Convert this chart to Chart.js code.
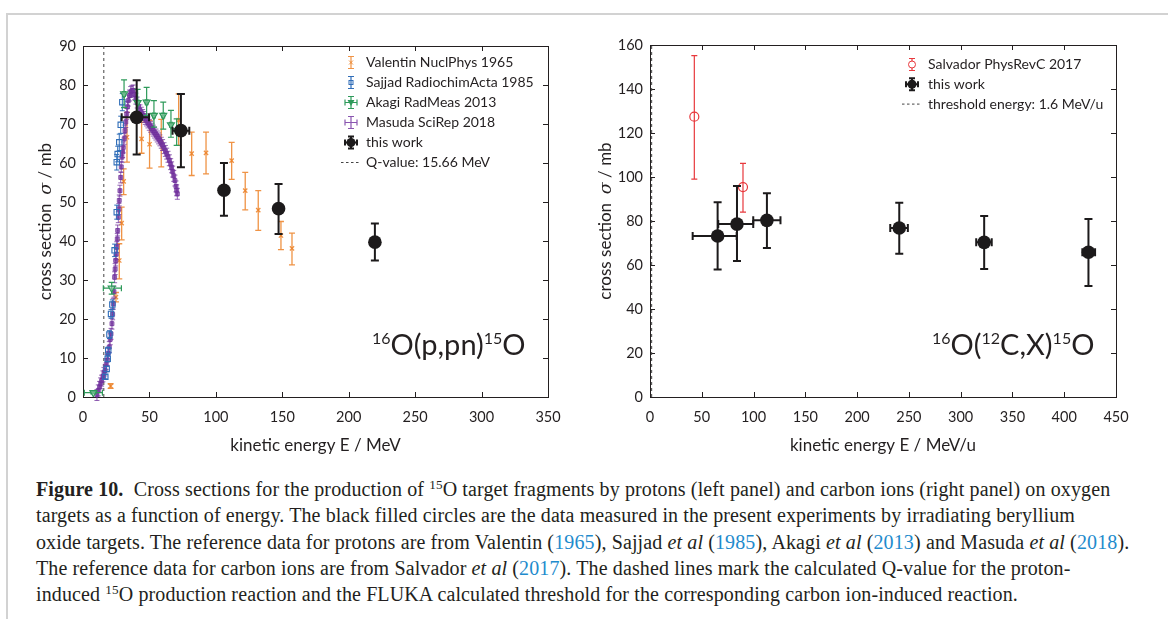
<!DOCTYPE html>
<html><head><meta charset="utf-8">
<script src="https://cdn.jsdelivr.net/npm/chart.js@4.4.0/dist/chart.umd.min.js"></script>
<style>
html,body{margin:0;padding:0;background:#fff;}
body{width:1168px;height:619px;overflow:hidden;position:relative;}
#frame{position:absolute;left:6px;top:13px;width:1170px;height:620px;border-left:2px solid #d2d2d2;border-top:2px solid #d2d2d2;}
#w1{position:absolute;left:0;top:0;width:590px;height:465px;}
#w2{position:absolute;left:584px;top:0;width:584px;height:465px;}
#caption{position:absolute;left:36px;top:476px;font-family:'Liberation Serif',serif;font-size:20px;letter-spacing:0.12px;line-height:26.3px;color:#231f20;white-space:nowrap;}
#caption sup{font-size:0.66em;vertical-align:0.5em;line-height:0;}
#caption .y{color:#1e8bcd;}
</style></head>
<body>
<div id="frame"></div>
<div id="w1"><canvas id="c1"></canvas></div>
<div id="w2"><canvas id="c2"></canvas></div>
<div id="caption">
<div><b>Figure 10.</b>&nbsp; Cross sections for the production of <sup>15</sup>O target fragments by protons (left panel) and carbon ions (right panel) on oxygen</div>
<div>targets as a function of energy. The black filled circles are the data measured in the present experiments by irradiating beryllium</div>
<div>oxide targets. The reference data for protons are from Valentin (<span class="y">1965</span>), Sajjad <i>et al</i> (<span class="y">1985</span>), Akagi <i>et al</i> (<span class="y">2013</span>) and Masuda <i>et al</i> (<span class="y">2018</span>).</div>
<div>The reference data for carbon ions are from Salvador <i>et al</i> (<span class="y">2017</span>). The dashed lines mark the calculated Q-value for the proton-</div>
<div>induced <sup>15</sup>O production reaction and the FLUKA calculated threshold for the corresponding carbon ion-induced reaction.</div>
</div>
<script>
// ---------- tick values ----------
const leftXTicks = [0, 50, 100, 150, 200, 250, 300, 350];
const leftYTicks = [0, 10, 20, 30, 40, 50, 60, 70, 80, 90];
const rightXTicks = [0, 50, 100, 150, 200, 250, 300, 350, 400, 450];
const rightYTicks = [0, 20, 40, 60, 80, 100, 120, 140, 160];

// ---------- left panel: protons ----------
const qValue = 15.66;
const thresholdEnergy = 1.6;

const valentinE     = [20.8, 24.8, 27.3, 29.1, 30.6, 33.1, 44.1, 50.1, 58.9, 72.0, 81.8, 92.6, 111.9, 122.1, 131.9, 149.0, 157.3];
const valentinSigma = [2.8, 25.6, 35.0, 44.6, 55.3, 66.6, 66.2, 64.8, 65.2, 71.0, 62.4, 62.6, 60.6, 52.9, 47.9, 41.4, 38.1];
const valentinLow   = [2.2, 24.4, 30.3, 40.3, 51.9, 60.2, 62.5, 58.7, 59.0, 64.5, 56.8, 57.2, 55.8, 48.0, 42.7, 37.8, 33.9];
const valentinHigh  = [3.4, 26.8, 39.3, 48.7, 58.5, 73.0, 70.5, 70.9, 71.2, 77.7, 67.9, 67.9, 65.3, 57.6, 52.9, 45.0, 42.0];

const sajjadE     = [16.8, 17.8, 18.6, 19.0, 19.9, 21.1, 22.1, 23.8, 25.4, 25.4, 26.1, 27.3, 28.4, 29.6];
const sajjadSigma = [5.2, 7.2, 9.8, 11.9, 16.0, 21.3, 23.7, 37.6, 47.4, 60.2, 62.3, 65.3, 69.8, 75.6];
const sajjadLow   = [4.6, 6.5, 9.0, 11.0, 15.0, 20.2, 22.5, 36.0, 45.6, 58.2, 60.3, 63.2, 67.6, 73.4];
const sajjadHigh  = [5.8, 7.9, 10.6, 12.8, 17.0, 22.4, 24.9, 39.2, 49.2, 62.2, 64.3, 67.4, 72.0, 77.8];

const akagiE     = [7.8, 21.6, 30.9, 41.1, 47.9, 53.4, 60.4, 66.2, 70.5];
const akagiSigma = [1.1, 27.9, 77.7, 75.5, 75.6, 72.2, 72.2, 69.8, 68.3];
const akagiLow   = [0.8, 26.4, 74.2, 72.1, 72.2, 69.2, 68.7, 66.6, 64.5];
const akagiHigh  = [1.4, 29.4, 81.3, 78.9, 79.4, 76.0, 75.6, 73.5, 71.3];
const akagiELow  = [1.0, 15.3, 29.9, 40.1, 46.9, 52.4, 59.4, 65.2, 69.5];
const akagiEHigh = [14.6, 28.9, 31.9, 42.1, 48.9, 54.4, 61.4, 67.2, 71.5];

const masudaE = [10.5, 11.5, 12.5, 13.3, 14.0, 15.0, 15.8, 16.6, 17.5, 18.3, 19.0, 19.8, 20.5, 21.1, 21.8, 22.3, 22.8, 23.3, 23.8, 24.2,
                 24.6, 25.0, 25.4, 25.8, 26.1, 26.6, 27.0, 27.3, 27.8, 28.4, 28.8, 29.3, 29.8, 30.3, 31.0, 31.6, 32.2, 32.9, 33.5, 34.1,
                 35.0, 35.9, 36.8, 37.8, 38.8, 39.8, 40.8, 41.8, 42.9, 43.9, 44.9, 45.9, 46.9, 47.9, 48.9, 49.9, 50.9, 51.9, 52.9, 53.9,
                 54.9, 55.9, 56.9, 57.9, 58.9, 59.9, 61.0, 62.0, 63.0, 64.0, 65.0, 66.0, 66.7, 67.5, 68.3, 69.2, 70.0, 70.5, 71.0];
const masudaSigma = [0.5, 1.7, 2.6, 3.5, 4.2, 5.3, 6.2, 6.8, 8.4, 9.5, 11.2, 12.8, 14.8, 16.2, 18.8, 21.2, 23.9, 27.0, 30.7, 32.8,
                 35.0, 36.6, 38.4, 40.5, 42.7, 46.1, 48.2, 50.4, 52.9, 56.3, 59.0, 61.5, 62.8, 64.0, 66.2, 68.3, 70.5, 72.6, 74.4, 76.0,
                 77.3, 78.2, 78.5, 78.6, 77.6, 76.5, 75.5, 74.5, 73.5, 72.9, 72.3, 71.8, 71.3, 70.9, 70.4, 69.8, 69.3, 68.8, 68.3, 67.8,
                 67.3, 66.8, 66.3, 65.8, 65.2, 64.6, 63.8, 63.1, 62.4, 61.6, 60.7, 59.7, 58.9, 57.8, 56.7, 55.5, 54.0, 53.0, 52.1];
const masudaErr = 1.4;
const masudaEErr = 0.5;

const thisWorkPE     = [40.4, 73.7, 106.1, 147.2, 219.7];
const thisWorkPSigma = [71.7, 68.3, 53.0, 48.3, 39.7];
const thisWorkPLow   = [62.2, 58.9, 46.5, 41.8, 35.0];
const thisWorkPHigh  = [81.2, 77.7, 60.0, 54.6, 44.5];
const thisWorkPELow  = [29.1, 67.4, 103.6, 144.7, 218.2];
const thisWorkPEHigh = [49.7, 80.0, 108.6, 149.7, 221.2];

// ---------- right panel: carbon ions ----------
const salvadorE     = [42.8, 89.8];
const salvadorSigma = [127.4, 95.4];
const salvadorLow   = [99.0, 84.0];
const salvadorHigh  = [155.2, 106.2];

const thisWorkCE     = [65.3, 84.0, 112.9, 240.7, 322.7, 423.4];
const thisWorkCSigma = [73.2, 78.6, 80.3, 76.8, 70.3, 65.8];
const thisWorkCLow   = [57.9, 61.8, 67.7, 65.1, 58.2, 50.5];
const thisWorkCHigh  = [88.5, 95.9, 92.6, 88.3, 82.3, 80.9];
const thisWorkCELow  = [41.2, 65.9, 99.7, 232.0, 315.0, 417.5];
const thisWorkCEHigh = [83.7, 99.7, 126.0, 249.0, 330.0, 429.8];

// ---------- styling ----------
const FONT = 'Lato';
const INK = '#231f20';
const C_VAL = 'rgba(236,128,36,0.85)';
const C_SAJ = '#2f6db8';
const C_AKA = '#2e9a5a';
const C_MAS = 'rgba(120,58,160,0.55)';
const C_MAS_S = 'rgba(112,48,156,0.75)';
const C_BLK = '#1c1a1b';
const C_SAL = '#e8393d';
const TITLE_PX = 17;

const pts = (xs, ys) => xs.map((x, i) => ({x: x, y: ys[i]}));

// error bars drawn through the scales
const errorBarPlugin = {
  id: 'errbars',
  beforeDatasetDraw(chart, args) {
    const ds = chart.data.datasets[args.index];
    const e = ds.errorBars;
    if (!e) return;
    const ctx = chart.ctx, xs = chart.scales.x, ys = chart.scales.y;
    ctx.save();
    ctx.strokeStyle = e.color;
    ctx.lineWidth = e.lineWidth;
    ds.data.forEach((p, i) => {
      const px = xs.getPixelForValue(p.x), py = ys.getPixelForValue(p.y);
      ctx.beginPath();
      if (e.yLow) {
        const lo = Array.isArray(e.yLow) ? e.yLow[i] : p.y - e.yLow;
        const hi = Array.isArray(e.yHigh) ? e.yHigh[i] : p.y + e.yHigh;
        const y1 = ys.getPixelForValue(lo), y2 = ys.getPixelForValue(hi);
        ctx.moveTo(px, y1); ctx.lineTo(px, y2);
        ctx.moveTo(px - e.cap, y1); ctx.lineTo(px + e.cap, y1);
        ctx.moveTo(px - e.cap, y2); ctx.lineTo(px + e.cap, y2);
      }
      if (e.xLow) {
        const lo = Array.isArray(e.xLow) ? e.xLow[i] : p.x - e.xLow;
        const hi = Array.isArray(e.xHigh) ? e.xHigh[i] : p.x + e.xHigh;
        const x1 = xs.getPixelForValue(lo), x2 = xs.getPixelForValue(hi);
        ctx.moveTo(x1, py); ctx.lineTo(x2, py);
        ctx.moveTo(x1, py - e.cap); ctx.lineTo(x1, py + e.cap);
        ctx.moveTo(x2, py - e.cap); ctx.lineTo(x2, py + e.cap);
      }
      ctx.stroke();
    });
    ctx.restore();
  }
};

// box frame with inward ticks
const framePlugin = {
  id: 'frame',
  beforeDatasetsDraw(chart) {
    const ctx = chart.ctx, a = chart.chartArea, xs = chart.scales.x, ys = chart.scales.y;
    ctx.save();
    ctx.strokeStyle = INK; ctx.lineWidth = 1;
    ctx.strokeRect(Math.round(a.left) + 0.5, Math.round(a.top) + 0.5, Math.round(a.right - a.left), Math.round(a.bottom - a.top));
    ctx.beginPath();
    const L = 5;
    xs.ticks.forEach(t => {
      const x = Math.round(xs.getPixelForValue(t.value)) + 0.5;
      ctx.moveTo(x, a.bottom); ctx.lineTo(x, a.bottom - L);
      ctx.moveTo(x, a.top); ctx.lineTo(x, a.top + L);
    });
    ys.ticks.forEach(t => {
      const y = Math.round(ys.getPixelForValue(t.value)) + 0.5;
      ctx.moveTo(a.left, y); ctx.lineTo(a.left + L, y);
      ctx.moveTo(a.right, y); ctx.lineTo(a.right - L, y);
    });
    ctx.stroke();
    ctx.restore();
  }
};

function drawSymbol(ctx, cx, cy, s) {
  ctx.save();
  if (s.dash) {
    ctx.strokeStyle = '#444'; ctx.lineWidth = 1; ctx.setLineDash([2.5, 2.5]);
    ctx.beginPath(); ctx.moveTo(cx - 10, cy); ctx.lineTo(cx + 10, cy); ctx.stroke();
    ctx.restore(); return;
  }
  ctx.strokeStyle = s.color; ctx.lineWidth = s.lw || 1.2;
  ctx.beginPath();
  const h = 6, c = s.cap || 3;
  ctx.moveTo(cx, cy - h); ctx.lineTo(cx, cy + h);
  ctx.moveTo(cx - c, cy - h); ctx.lineTo(cx + c, cy - h);
  ctx.moveTo(cx - c, cy + h); ctx.lineTo(cx + c, cy + h);
  if (s.horiz) {
    ctx.moveTo(cx - h, cy); ctx.lineTo(cx + h, cy);
    ctx.moveTo(cx - h, cy - c); ctx.lineTo(cx - h, cy + c);
    ctx.moveTo(cx + h, cy - c); ctx.lineTo(cx + h, cy + c);
  }
  ctx.stroke();
  ctx.fillStyle = s.color;
  ctx.lineWidth = 1;
  if (s.marker === 'x') {
    ctx.beginPath(); ctx.moveTo(cx - 2, cy - 2); ctx.lineTo(cx + 2, cy + 2); ctx.moveTo(cx + 2, cy - 2); ctx.lineTo(cx - 2, cy + 2); ctx.stroke();
  } else if (s.marker === 'sq') {
    ctx.strokeRect(cx - 2, cy - 2, 4, 4);
  } else if (s.marker === 'tri') {
    ctx.beginPath(); ctx.moveTo(cx - 3.5, cy - 2.5); ctx.lineTo(cx + 3.5, cy - 2.5); ctx.lineTo(cx, cy + 3.5); ctx.closePath(); ctx.fill();
  } else if (s.marker === 'dot') {
    ctx.beginPath(); ctx.arc(cx, cy, 4.5, 0, Math.PI * 2); ctx.fill();
  } else if (s.marker === 'ring') {
    ctx.beginPath(); ctx.arc(cx, cy, 3.5, 0, Math.PI * 2); ctx.fillStyle = '#fff'; ctx.fill(); ctx.stroke();
  }
  ctx.restore();
}

function drawSupText(ctx, parts, x, y, big, small) {
  let cx = x;
  parts.forEach(([t, sup]) => {
    ctx.font = (sup ? small : big) + 'px ' + FONT;
    ctx.fillText(t, cx, sup ? y - big * 0.38 : y);
    cx += ctx.measureText(t).width;
  });
}

function textPlugin(cfg) {
  return {
    id: 'texts',
    afterDraw(chart) {
      const ctx = chart.ctx, a = chart.chartArea;
      ctx.save();
      ctx.fillStyle = INK;
      ctx.textBaseline = 'middle';
      // x title
      ctx.font = TITLE_PX + 'px ' + FONT;
      ctx.textAlign = 'center';
      ctx.fillText(cfg.xTitle, (a.left + a.right) / 2, cfg.xTitleY);
      // y title rotated: "cross section  σ / mb"
      ctx.save();
      ctx.translate(cfg.yTitleX, (a.top + a.bottom) / 2);
      ctx.rotate(-Math.PI / 2);
      ctx.textAlign = 'left';
      const p1 = 'cross section  ', p2 = 'σ', p3 = ' / mb';
      const fN = TITLE_PX + 'px ' + FONT, fI = 'italic ' + (TITLE_PX + 0.5) + 'px "DejaVu Serif"';
      ctx.font = fN; const w1 = ctx.measureText(p1).width, w3 = ctx.measureText(p3).width;
      ctx.font = fI; const w2 = ctx.measureText(p2).width;
      let sx = -(w1 + w2 + w3) / 2;
      ctx.font = fN; ctx.fillText(p1, sx, 0); sx += w1;
      ctx.font = fI; ctx.fillText(p2, sx, 0); sx += w2;
      ctx.font = fN; ctx.fillText(p3, sx, 0);
      ctx.restore();
      // legend
      ctx.textAlign = 'left';
      cfg.legend.forEach((it, i) => {
        const y = cfg.legY + i * cfg.legDy;
        drawSymbol(ctx, cfg.legX, y, it);
        ctx.fillStyle = INK;
        ctx.font = '14px ' + FONT;
        ctx.fillText(it.label, cfg.legTextX, y);
      });
      // reaction label
      ctx.textBaseline = 'alphabetic';
      ctx.fillStyle = INK;
      drawSupText(ctx, cfg.reaction, cfg.reactX, cfg.reactY, 29, 16);
      ctx.restore();
    }
  };
}

function baseOptions(xmin, xmax, xstep, ymin, ymax, ystep, yAxisW, pad) {
  return {
    responsive: true,
    maintainAspectRatio: false,
    animation: false,
    layout: {padding: pad},
    plugins: {legend: {display: false}, tooltip: {enabled: false}},
    scales: {
      x: {
        type: 'linear', min: xmin, max: xmax,
        grid: {display: false, drawTicks: false},
        border: {display: false},
        ticks: {stepSize: xstep, color: INK, font: {family: FONT, size: 14.5}, padding: 12, maxRotation: 0},
        afterFit(s) { s.height = 465 - 397 - pad.bottom; }
      },
      y: {
        type: 'linear', min: ymin, max: ymax,
        grid: {display: false, drawTicks: false},
        border: {display: false},
        ticks: {stepSize: ystep, color: INK, font: {family: FONT, size: 14.5}, padding: 7},
        afterFit(s) { s.width = yAxisW; }
      }
    }
  };
}

// ---------- left chart ----------
const leftOpts = baseOptions(leftXTicks[0], leftXTicks[leftXTicks.length - 1], leftXTicks[1] - leftXTicks[0],
                             leftYTicks[0], leftYTicks[leftYTicks.length - 1], leftYTicks[1] - leftYTicks[0],
                             83, {left: 0, right: 42, top: 46, bottom: 0});

new Chart(document.getElementById('c1'), {
  type: 'scatter',
  data: {
    datasets: [
      {label: 'this work', data: pts(thisWorkPE, thisWorkPSigma), pointStyle: 'circle', pointRadius: 6.8,
       backgroundColor: C_BLK, borderColor: C_BLK, borderWidth: 0,
       errorBars: {color: C_BLK, lineWidth: 2, cap: 4, yLow: thisWorkPLow, yHigh: thisWorkPHigh, xLow: thisWorkPELow, xHigh: thisWorkPEHigh}},
      {label: 'Akagi RadMeas 2013', data: pts(akagiE, akagiSigma), pointStyle: 'triangle', rotation: 180, pointRadius: 4,
       backgroundColor: 'rgba(255,255,255,0.3)', borderColor: C_AKA, borderWidth: 1.2,
       errorBars: {color: C_AKA, lineWidth: 1.2, cap: 3, yLow: akagiLow, yHigh: akagiHigh, xLow: akagiELow, xHigh: akagiEHigh}},
      {label: 'Sajjad RadiochimActa 1985', data: pts(sajjadE, sajjadSigma), pointStyle: 'rect', pointRadius: 3.8,
       backgroundColor: 'rgba(255,255,255,0)', borderColor: C_SAJ, borderWidth: 1.1,
       errorBars: {color: C_SAJ, lineWidth: 1, cap: 2.5, yLow: sajjadLow, yHigh: sajjadHigh}},
      {label: 'Masuda SciRep 2018', data: pts(masudaE, masudaSigma), pointStyle: 'rect', pointRadius: 2.8,
       backgroundColor: C_MAS, borderColor: C_MAS_S, borderWidth: 1,
       errorBars: {color: C_MAS_S, lineWidth: 1, cap: 2.5, yLow: masudaErr, yHigh: masudaErr, xLow: masudaEErr, xHigh: masudaEErr}},
      {label: 'Valentin NuclPhys 1965', data: pts(valentinE, valentinSigma), pointStyle: 'crossRot', pointRadius: 3,
       borderColor: C_VAL, borderWidth: 1.3,
       errorBars: {color: C_VAL, lineWidth: 1.3, cap: 3, yLow: valentinLow, yHigh: valentinHigh}},
      {label: 'Q-value: 15.66 MeV', type: 'line', data: [{x: qValue, y: leftYTicks[0]}, {x: qValue, y: leftYTicks[leftYTicks.length - 1]}],
       borderColor: '#444', borderWidth: 1, borderDash: [3, 3], pointRadius: 0, fill: false}
    ]
  },
  options: leftOpts,
  plugins: [framePlugin, errorBarPlugin, textPlugin({
    xTitle: 'kinetic energy E / MeV', xTitleY: 446, yTitleX: 46,
    legX: 351, legTextX: 366, legY: 62.5, legDy: 20,
    legend: [
      {label: 'Valentin NuclPhys 1965', color: C_VAL, marker: 'x'},
      {label: 'Sajjad RadiochimActa 1985', color: C_SAJ, marker: 'sq'},
      {label: 'Akagi RadMeas 2013', color: C_AKA, marker: 'tri', horiz: true},
      {label: 'Masuda SciRep 2018', color: '#8a55b0', horiz: true},
      {label: 'this work', color: C_BLK, marker: 'dot', horiz: true, lw: 2},
      {label: 'Q-value: 15.66 MeV', dash: true}
    ],
    reaction: [['16', true], ['O(p,pn)', false], ['15', true], ['O', false]],
    reactX: 372, reactY: 355
  })]
});

// ---------- right chart ----------
const rightOpts = baseOptions(rightXTicks[0], rightXTicks[rightXTicks.length - 1], rightXTicks[1] - rightXTicks[0],
                              rightYTicks[0], rightYTicks[rightYTicks.length - 1], rightYTicks[1] - rightYTicks[0],
                              66, {left: 0, right: 52, top: 45, bottom: 0});

new Chart(document.getElementById('c2'), {
  type: 'scatter',
  data: {
    datasets: [
      {label: 'this work', data: pts(thisWorkCE, thisWorkCSigma), pointStyle: 'circle', pointRadius: 6.8,
       backgroundColor: C_BLK, borderColor: C_BLK, borderWidth: 0,
       errorBars: {color: C_BLK, lineWidth: 2, cap: 4, yLow: thisWorkCLow, yHigh: thisWorkCHigh, xLow: thisWorkCELow, xHigh: thisWorkCEHigh}},
      {label: 'Salvador PhysRevC 2017', data: pts(salvadorE, salvadorSigma), pointStyle: 'circle', pointRadius: 4.5,
       backgroundColor: 'rgba(255,255,255,0)', borderColor: C_SAL, borderWidth: 1.2,
       errorBars: {color: C_SAL, lineWidth: 1.2, cap: 3, yLow: salvadorLow, yHigh: salvadorHigh}},
      {label: 'threshold energy: 1.6 MeV/u', type: 'line', data: [{x: thresholdEnergy, y: rightYTicks[0]}, {x: thresholdEnergy, y: rightYTicks[rightYTicks.length - 1]}],
       borderColor: '#444', borderWidth: 1, borderDash: [3, 3], pointRadius: 0, fill: false}
    ]
  },
  options: rightOpts,
  plugins: [framePlugin, errorBarPlugin, textPlugin({
    xTitle: 'kinetic energy E / MeV/u', xTitleY: 446, yTitleX: 22,
    legX: 912 - 584, legTextX: 928 - 584, legY: 64.5, legDy: 19.8,
    legend: [
      {label: 'Salvador PhysRevC 2017', color: C_SAL, marker: 'ring'},
      {label: 'this work', color: C_BLK, marker: 'dot', horiz: true, lw: 2},
      {label: 'threshold energy: 1.6 MeV/u', dash: true}
    ],
    reaction: [['16', true], ['O(', false], ['12', true], ['C,X)', false], ['15', true], ['O', false]],
    reactX: 932 - 584, reactY: 355
  })]
});
</script>
</body></html>
